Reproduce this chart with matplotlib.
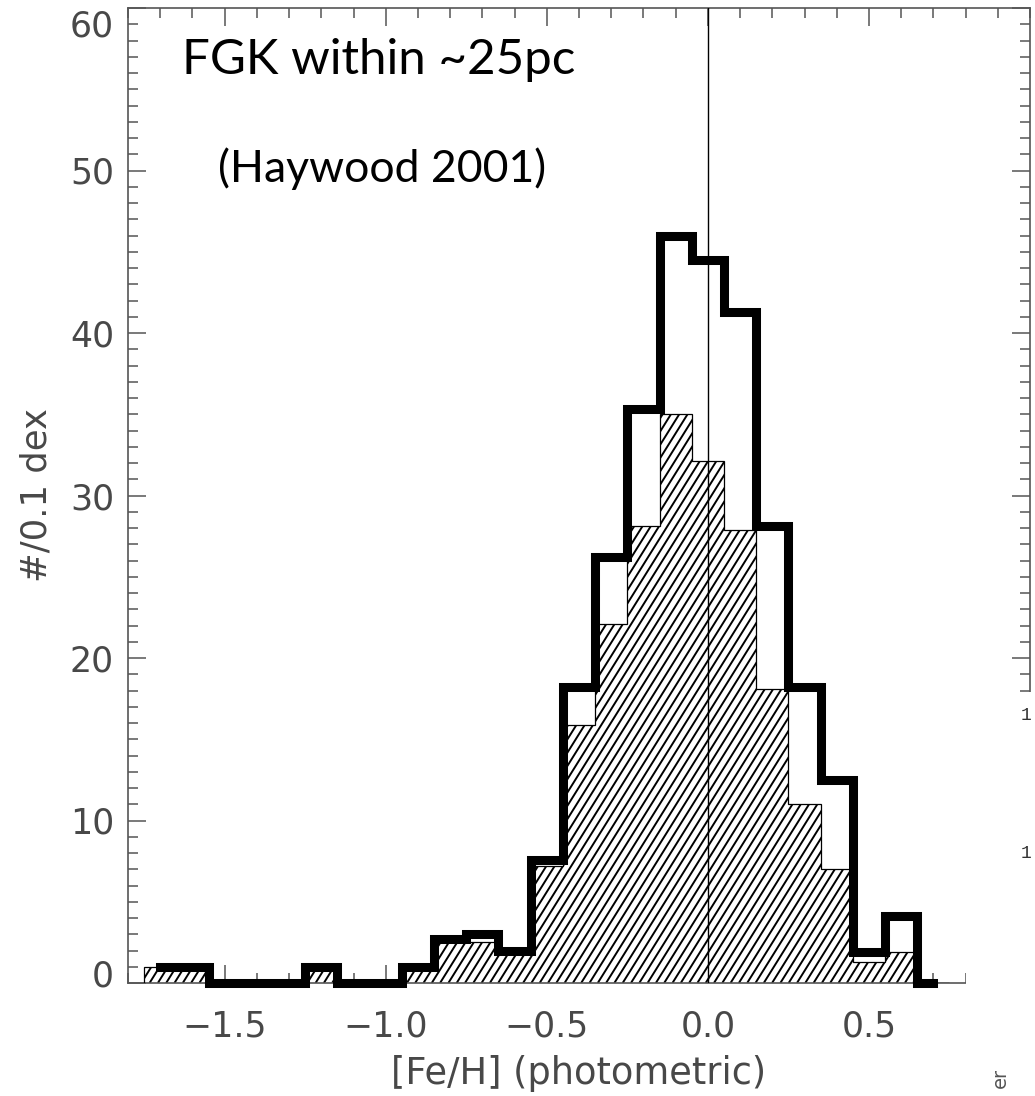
import numpy as np
import matplotlib
matplotlib.use("Agg")
import matplotlib.pyplot as plt
from matplotlib.patches import Rectangle
from matplotlib.path import Path
from matplotlib.collections import LineCollection
from matplotlib.transforms import ScaledTranslation
from matplotlib.ticker import MultipleLocator

# [Fe/H] bin centres, 0.1 dex bins
feh_bins = [-1.7, -1.6, -1.5, -1.4, -1.3, -1.2, -1.1, -1.0, -0.9, -0.8, -0.7, -0.6, -0.5,
            -0.4, -0.3, -0.2, -0.1, 0.0, 0.1, 0.2, 0.3, 0.4, 0.5, 0.6, 0.7]
# all FGK stars (thick outline)
counts_all = [1, 1, 0, 0, 0, 1, 0, 0, 1, 2.7, 3.0, 2.0, 7.6,
              18.2, 26.2, 35.3, 46.0, 44.5, 41.3, 28.1, 18.2, 12.5, 1.9, 4.1, 0]
# hatched sub-sample
counts_sub = [1, 1, 0, 0, 0, 1, 0, 0, 1, 2.5, 2.5, 1.8, 7.2,
              15.9, 22.1, 28.1, 35.0, 32.1, 27.9, 18.1, 11.0, 7.0, 1.3, 1.9, 0]

xticks = [-1.5, -1.0, -0.5, 0.0, 0.5]
xtick_labels = ["\u22121.5", "\u22121.0", "\u22120.5", "0.0", "0.5"]
yticks = [0, 10, 20, 30, 40, 50, 60]

W, H = 1035, 1096
fig = plt.figure(figsize=(W / 100, H / 100), dpi=100)
ax = fig.add_axes([128 / W, 1 - 983 / H, (1030 - 128) / W, (983 - 8) / H])
ax.set_xlim(-1.8, 1.0)
ax.set_ylim(0, 60)

# hatched histogram: white fill, steep hatch lines, thin step outline
bars = ax.bar(feh_bins, counts_sub, width=0.1, facecolor="white", linewidth=0, zorder=2)
edges = np.append(np.array(feh_bins) - 0.05, feh_bins[-1] + 0.05)
ax.stairs(counts_sub, edges, color="black", linewidth=0.9, baseline=0, zorder=2.6)

px_x = 902 / 2.8          # pixels per dex
px_y = 975 / 60.0         # pixels per count
slope = np.tan(np.radians(58)) * px_x / px_y
step = 8.3 / px_x
segs = []
for x0 in np.arange(-1.8 - 60 / slope, 0.9, step):
    segs.append([(x0, 0), (x0 + 60 / slope, 60)])
hatch = LineCollection(segs, colors="black", linewidths=1.4, zorder=2.5)
ax.add_collection(hatch)
clip = Path.make_compound_path(*[b.get_path().transformed(b.get_patch_transform()) for b in bars])
hatch.set_clip_path(clip, ax.transData)

ax.axvline(0.0, color="black", lw=1.0, zorder=3)
ax.step(feh_bins, counts_all, where="mid", color="black", lw=6.5,
        solid_joinstyle="miter", clip_on=False, zorder=4)

ax.set_xlim(-1.8, 1.0)
ax.set_ylim(0, 60)
ax.set_xticks(xticks, labels=xtick_labels)
ax.set_yticks(yticks)
ax.xaxis.set_minor_locator(MultipleLocator(0.1))
ax.yaxis.set_minor_locator(MultipleLocator(1))
ax.tick_params(which="both", direction="in", top=True, right=True,
               color="#555555", width=1.1, labelsize=25, labelcolor="#484848")
ax.tick_params(which="major", length=13)
ax.tick_params(which="minor", length=7)
ax.tick_params(axis="x", pad=19)
ax.tick_params(axis="y", pad=10)
for s in ax.spines.values():
    s.set_color("#555555")
    s.set_linewidth(1.2)

# end labels sit inside the frame as in the original
yt = ax.yaxis.get_major_ticks()
yt[-1].label1.set_transform(yt[-1].label1.get_transform() + ScaledTranslation(0, -0.15, fig.dpi_scale_trans))
yt[0].label1.set_transform(yt[0].label1.get_transform() + ScaledTranslation(0, 0.10, fig.dpi_scale_trans))

ax.set_xlabel("[Fe/H] (photometric)", fontsize=26.5, color="#484848", labelpad=8)
ax.set_ylabel("#/0.1 dex", fontsize=25.5, color="#484848", labelpad=12)

ax.text(0.06, 0.932, "FGK within ~25pc", transform=ax.transAxes,
        family="Lato", fontsize=35.5, va="baseline", ha="left", zorder=6)
ax.text(0.0998, 0.8215, "(Haywood 2001)", transform=ax.transAxes,
        family="Lato", fontsize=32, va="baseline", ha="left", zorder=6)

# neighbouring panel covering the lower-right corner
fig.patches.append(Rectangle((966 / W, 0), 1 - 966 / W, 1 - 692 / H,
                             transform=fig.transFigure, facecolor="white",
                             edgecolor="none", zorder=5))
fig.text(1026 / W, 1 - 716 / H, "1", family="Liberation Mono", fontsize=13,
         color="#333333", ha="center", va="center", zorder=6)
fig.text(1026 / W, 1 - 853 / H, "1", family="Liberation Mono", fontsize=13,
         color="#333333", ha="center", va="center", zorder=6)
fig.text(1000 / W, 1 - 1078 / H, "er", fontsize=14, rotation=90,
         color="#555555", ha="center", va="center", zorder=6)

fig.savefig("out.png", dpi=100)
